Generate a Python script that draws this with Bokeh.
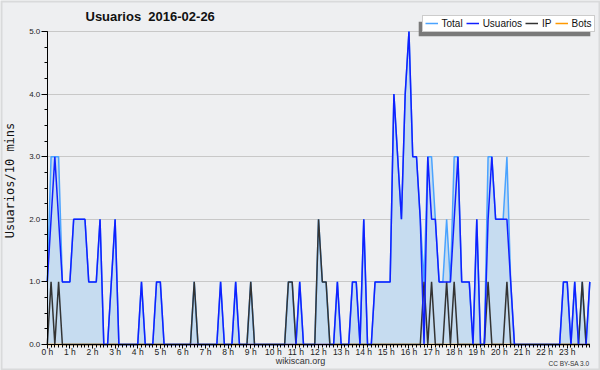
import math
from bokeh.plotting import figure
from bokeh.models import (ColumnDataSource, Range1d, FixedTicker, Legend,
                          LegendItem, Label, BoxAnnotation)
from bokeh.embed import file_html
from bokeh.resources import INLINE

# 10-minute buckets, 0:00 .. 24:00 (145 points)
usuarios = [1, 2, 3, 2, 1, 1, 1, 2, 2, 2,
            2, 1, 1, 1, 2, 0, 0, 1, 2, 0,
            0, 0, 0, 0, 0, 1, 0, 0, 0, 1,
            1, 0, 0, 0, 0, 0, 0, 0, 0, 0,
            0, 0, 0, 0, 0, 0, 1, 0, 0, 0,
            1, 0, 0, 0, 0, 0, 0, 0, 0, 0,
            0, 0, 0, 0, 0, 0, 0, 1, 0, 0,
            0, 0, 0, 0, 0, 0, 0, 1, 0, 0,
            0, 1, 1, 0, 2, 0, 0, 1, 1, 1,
            1, 1, 4, 3, 2, 4, 5, 3, 3, 2,
            0, 3, 2, 2, 1, 1, 1, 1, 2, 3,
            1, 1, 1, 0, 2, 0, 0, 2, 3, 2,
            2, 2, 2, 1, 0, 0, 0, 0, 0, 0,
            0, 0, 0, 0, 0, 0, 0, 1, 1, 0,
            1, 0, 0, 0, 1]
ip = [0, 1, 0, 1, 0, 0, 0, 0, 0, 0,
      0, 0, 0, 0, 0, 0, 0, 0, 0, 0,
      0, 0, 0, 0, 0, 0, 0, 0, 0, 0,
      0, 0, 0, 0, 0, 0, 0, 0, 0, 1,
      0, 0, 0, 0, 0, 0, 0, 0, 0, 0,
      0, 0, 0, 0, 1, 0, 0, 0, 0, 0,
      0, 0, 0, 0, 1, 1, 0, 0, 0, 0,
      0, 0, 2, 1, 1, 0, 0, 0, 0, 0,
      0, 0, 0, 0, 0, 0, 0, 0, 0, 0,
      0, 0, 0, 0, 0, 0, 0, 0, 0, 0,
      1, 0, 1, 0, 0, 0, 1, 0, 1, 0,
      0, 0, 0, 0, 0, 0, 0, 1, 0, 0,
      0, 0, 1, 0, 0, 0, 0, 0, 0, 0,
      0, 0, 0, 0, 0, 0, 0, 0, 0, 0,
      0, 0, 1, 0, 0]
bots = [0] * len(usuarios)
total = [u + i + b for u, i, b in zip(usuarios, ip, bots)]
hours = [k / 6 for k in range(len(usuarios))]

hour_ticks = list(range(24))
hour_labels = {h: f"{h} h" for h in hour_ticks}
y_ticks = [0, 1, 2, 3, 4, 5]
y_labels = {v: f"{v:.1f}" for v in y_ticks}

title_text = "Usuarios \u00a02016-02-26"
y_title = "Usuarios/10 mins"
site_text = "wikiscan.org"
license_text = "CC BY-SA 3.0"
series_names = ["Total", "Usuarios", "IP", "Bots"]

src = ColumnDataSource(dict(x=hours, total=total, usuarios=usuarios,
                            ip=ip, bots=bots, zero=[0] * len(hours)))

# pixel geometry of the reference: 0 h at x=46.8, 24 h at x=589.3; 0 at y=344, 5 at y=31
PXH = (589.3 - 46.8) / 24.0
PXV = (344.0 - 31.0) / 5.0
W, H = 600, 370
x0 = -46.8 / PXH
y0 = -(H - 344.0) / PXV
x1 = x0 + W / PXH
y1 = y0 + H / PXV


def dx(px):
    return (px - 46.8) / PXH


def dy(py):
    return (344.0 - py) / PXV


BG = "#eeeff1"
p = figure(width=W, height=H, x_range=Range1d(x0, x1), y_range=Range1d(y0, y1),
           output_backend="svg", toolbar_location=None, title=None,
           min_border_left=0, min_border_right=0, min_border_top=0,
           min_border_bottom=0)
p.background_fill_color = BG
p.border_fill_color = BG
p.outline_line_color = None
p.xgrid.visible = False
p.ygrid.grid_line_color = "#c8c8c8"
p.ygrid.grid_line_width = 1
try:
    p.ygrid.cross_bounds = (0, 24)
except Exception:
    p.ygrid.visible = False
    p.segment(x0=0, x1=24, y0=y_ticks[1:], y1=y_ticks[1:], line_color="#c8c8c8",
              line_width=1)

p.varea(x="x", y1="zero", y2="total", source=src, fill_color="#c6dcf0")
r_bots = p.line("x", "bots", source=src, line_color="#ff9900", line_width=1.5)
r_total = p.line("x", "total", source=src, line_color="#4aa3ff", line_width=1.5)
r_ip = p.line("x", "ip", source=src, line_color="#333333", line_width=1.5)
r_us = p.line("x", "usuarios", source=src, line_color="#1020ff", line_width=1.5)

# axes
xa = p.xaxis[0]
xa.fixed_location = 0
xa.bounds = (0, 24)
xa.ticker = FixedTicker(ticks=hour_ticks, minor_ticks=[k / 6 for k in range(145)])
xa.major_label_overrides = hour_labels
ya = p.yaxis[0]
ya.fixed_location = 0
ya.bounds = (0, 5)
ya.ticker = FixedTicker(ticks=y_ticks, minor_ticks=[k * 0.25 for k in range(21)])
ya.major_label_overrides = y_labels
for ax in (xa, ya):
    ax.axis_line_color = "black"
    ax.axis_line_width = 1
    ax.major_tick_line_color = "black"
    ax.minor_tick_line_color = "black"
    ax.major_tick_in = 0
    ax.minor_tick_in = 0
    ax.major_label_text_font = "Liberation Sans"
    ax.major_label_text_color = "#222222"
xa.major_tick_out = 4
xa.minor_tick_out = 3
xa.major_label_standoff = -2
xa.major_label_text_font_size = "8.5px"
ya.major_tick_out = 6
ya.minor_tick_out = 3
ya.major_label_standoff = 1
ya.major_label_text_font_size = "8px"

# texts
p.add_layout(Label(x=dx(85), y=dy(15.7), text=title_text,
                   text_font="Liberation Sans", text_font_style="bold",
                   text_font_size="13px", text_color="#111111",
                   text_baseline="alphabetic"))
p.add_layout(Label(x=dx(9.5), y=dy(180), text=y_title,
                   angle=math.pi / 2, text_font="DejaVu Sans Mono",
                   text_font_size="12px", text_color="#111111",
                   text_align="center", text_baseline="alphabetic"))
p.add_layout(Label(x=dx(300), y=dy(360.3), text=site_text,
                   text_font="Liberation Sans", text_font_size="9px",
                   text_color="#333333", text_align="center",
                   text_baseline="alphabetic"))
p.add_layout(Label(x=dx(589), y=dy(362.5), text=license_text,
                   text_font="Liberation Sans", text_font_size="6.5px",
                   text_color="#333333", text_align="right",
                   text_baseline="alphabetic"))

# legend with drop shadow
LEG_L, LEG_W, LEG_TOP, LEG_H = 421.5, 171.6, 17.3, 14.4
p.add_layout(BoxAnnotation(left=dx(LEG_L - 3.3), right=dx(LEG_L - 3.3 + LEG_W),
                           top=dy(LEG_TOP + 4), bottom=dy(LEG_TOP + 4 + LEG_H),
                           fill_color="#7a7a7a", fill_alpha=1, line_color=None))
items = [LegendItem(label=n, renderers=[r])
         for n, r in zip(series_names, [r_total, r_us, r_ip, r_bots])]
legend = Legend(items=items, location=(LEG_L, H - LEG_TOP - LEG_H),
                orientation="horizontal",
                label_text_font="Liberation Sans", label_text_font_size="10px",
                label_text_color="#111111",
                glyph_width=13, glyph_height=10, label_height=10, label_width=0,
                label_standoff=4, spacing=3, padding=2, margin=0,
                background_fill_color="white", background_fill_alpha=1,
                border_line_color="#999999")
p.add_layout(legend)

# outer frame of the picture
p.add_layout(BoxAnnotation(left=x0, right=x1, top=y1, bottom=y0, fill_alpha=0,
                           line_color="#a8a8a8", line_width=4))

open("out.html", "w").write(file_html(p, INLINE))
